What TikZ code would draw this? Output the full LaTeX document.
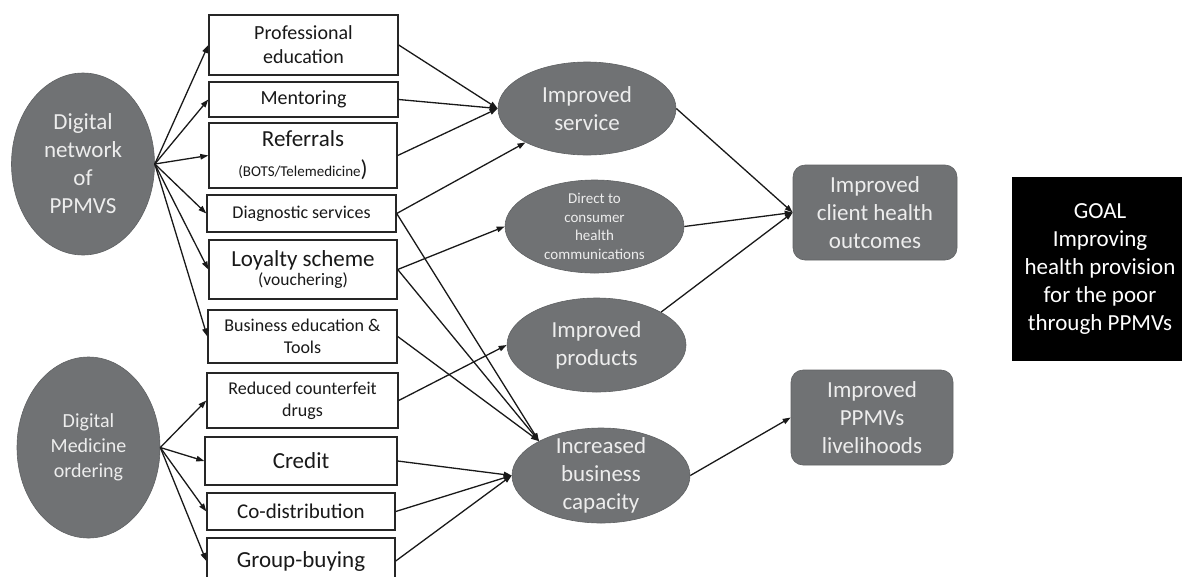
\documentclass[tikz,border=0pt]{standalone}
\usepackage{fontspec}
\setmainfont{Carlito}
\usetikzlibrary{arrows.meta,shapes.geometric}
\definecolor{ovalgray}{HTML}{707274}
\definecolor{ovaltext}{HTML}{EDEDED}
\tikzset{
  box/.style={draw=black!85, line width=1.4pt, fill=white, inner sep=0pt, align=center, text=black!90},
  oval/.style={ellipse, fill=ovalgray, draw=ovalgray!85!black, line width=0.6pt, inner sep=0pt},
  ovaltxt/.style={text=ovaltext, align=center, inner sep=0pt},
  rbox/.style={rounded corners=12pt, fill=ovalgray, draw=ovalgray!85!black, line width=0.6pt, text=ovaltext, align=center, inner sep=0pt},
  goalbox/.style={fill=black, text=white, align=center, inner sep=0pt},
  arr/.style={-{Triangle[length=8pt,width=5.5pt]}, line width=1.3pt, draw=black!90},
  fbig/.style={font=\fontsize{23}{28}\selectfont},
  fmid/.style={font=\fontsize{20}{24}\selectfont},
  fsmall/.style={font=\fontsize{18}{22}\selectfont},
  ftiny/.style={font=\fontsize{15}{18.7}\selectfont},
}
\begin{document}
\begin{tikzpicture}[x=1pt,y=-1pt]
\useasboundingbox (0,0) rectangle (1182,576);
\clip (0,0) rectangle (1182,576);
% left ellipses
\node[oval, minimum width=143pt, minimum height=182pt, label={[ovaltxt,fbig]center:{Digital\\network\\of\\PPMVS}}] (dn) at (83,164) {};
\node[oval, minimum width=143pt, minimum height=181pt, label={[ovaltxt,font=\fontsize{20}{25}\selectfont]center:{Digital\\Medicine\\ordering}}] (dm) at (88.5,447.5) {};
% boxes
\node[box, fmid, minimum width=189pt, minimum height=60pt] (pe) at (303.5,45) {Professional\\education};
\node[box, fmid, minimum width=189pt, minimum height=35pt] (me) at (303.5,99.5) {Mentoring};
\node[box, minimum width=188pt, minimum height=65pt] (re) at (303,155.5) {\fontsize{23}{28}\selectfont Referrals\\[12pt]\fontsize{15}{17}\selectfont (BOTS/Telemedicine{\fontsize{23}{17}\selectfont)}};
\node[box, fsmall, minimum width=189pt, minimum height=37pt] (di) at (301.5,213.5) {Diagnostic services};
\node[box, minimum width=188pt, minimum height=59pt] (lo) at (303,269.5) {\fontsize{23}{28}\selectfont Loyalty scheme\\[2pt]\fontsize{17.5}{21}\selectfont (vouchering)};
\node[box, fsmall, minimum width=189pt, minimum height=53pt] (bu) at (302.5,336.5) {Business education \&\\Tools};
\node[box, fsmall, minimum width=191pt, minimum height=55pt] (rc) at (302.5,400.5) {Reduced counterfeit\\drugs};
\node[box, fbig, minimum width=192pt, minimum height=48pt] (cr) at (301,461) {Credit};
\node[box, font=\fontsize{21}{25}\selectfont, minimum width=188pt, minimum height=37pt] (co) at (301,511.5) {Co-distribution};
\node[box, fbig, minimum width=188pt, minimum height=46pt] (gb) at (301,561) {Group-buying};
% middle ellipses
\node[oval, minimum width=178pt, minimum height=93pt, label={[ovaltxt,fbig]center:{Improved\\service}}] (is) at (587,108.5) {};
\node[oval, minimum width=179pt, minimum height=93pt, label={[ovaltxt,ftiny]center:{Direct to\\consumer\\health\\communications}}] (dc) at (594.5,226.5) {};
\node[oval, minimum width=179pt, minimum height=94pt, label={[ovaltxt,fbig]center:{Improved\\products}}] (ip) at (596.5,345) {};
\node[oval, minimum width=178pt, minimum height=95pt, label={[ovaltxt,fbig]center:{Increased\\business\\capacity}}] (ib) at (601,475.5) {};
% right boxes
\node[rbox, fbig, minimum width=164pt, minimum height=95pt] (ch) at (875,212.5) {Improved\\client health\\outcomes};
\node[rbox, fbig, minimum width=162pt, minimum height=95pt] (pl) at (872,417.5) {Improved\\PPMVs\\livelihoods};
\node[goalbox, fbig, minimum width=176pt, minimum height=184pt] (goal) at (1100,269) {GOAL\\Improving\\health provision\\for the poor\\through PPMVs};
% connectors from left ellipses
\foreach \t in {pe,me,re,di,lo,bu} \draw[arr] (dn.east) -- (\t.west);
\foreach \t in {rc,cr,co,gb} \draw[arr] (dm.east) -- (\t.west);
% boxes to middle
\foreach \s in {pe,me,re} \draw[arr] (\s.east) -- (is.west);
\draw[arr] (di.east) -- (is);
\draw[arr] (di.east) -- (ib.151);
\draw[arr] (lo.east) -- (dc.west);
\draw[arr] (lo.east) -- (ib.151);
\draw[arr] (bu.east) -- (ib.151);
\draw[arr] (rc.east) -- (ip.west);
\foreach \s in {cr,co,gb} \draw[arr] (\s.east) -- (ib.west);
% middle to right
\draw[arr] (is.east) -- (ch.west);
\draw[arr] (dc.east) -- (ch.west);
\draw[arr] (ip.27) -- (ch.west);
\draw[arr] (ib.east) -- (pl.west);
\end{tikzpicture}
\end{document}
